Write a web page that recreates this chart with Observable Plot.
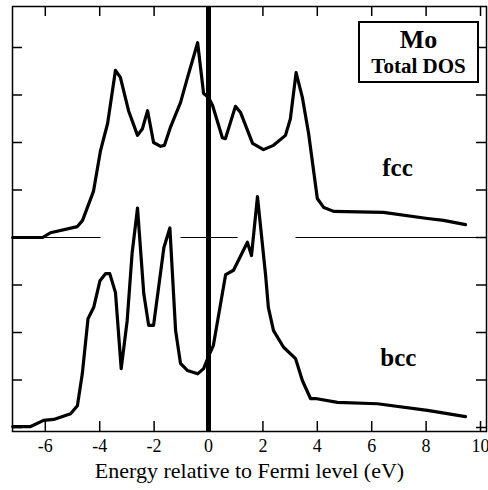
<!DOCTYPE html>
<html>
<head>
<meta charset="utf-8">
<script src="https://cdn.jsdelivr.net/npm/d3@7"></script>
<script src="https://cdn.jsdelivr.net/npm/@observablehq/plot@0.6"></script>
<style>
  html, body { margin: 0; padding: 0; background: #fff; }
  #wrap { position: relative; width: 488px; height: 490px; }
  #box {
    position: absolute; left: 358px; top: 21px; width: 121px; height: 62px;
    box-sizing: border-box; border: 2px solid #000; background: #fff;
    font-family: "Liberation Serif", "DejaVu Serif", serif; font-weight: bold; text-align: center; color: #000;
  }
  #box .t1 { font-size: 26px; line-height: 26px; margin-top: 4px; }
  #box .t2 { font-size: 21px; line-height: 21px; margin-top: 3px; }
</style>
</head>
<body>
<div id="wrap"><div id="box"><div class="t1">Mo</div><div class="t2">Total DOS</div></div></div>
<script>
// Energy (eV) relative to Fermi level and total DOS (arbitrary units, 1 = one tick interval)
const energyFcc = [-7.2, -6.1, -5.81, -4.82, -4.63, -4.23, -3.97, -3.71, -3.42, -3.24, -2.94, -2.61, -2.43, -2.24, -2.02, -1.76, -1.62, -1.40, -1.03, -0.77, -0.40, -0.18, 0, 0.15, 0.51, 0.62, 0.99, 1.18, 1.62, 2.02, 2.39, 2.83, 3.01, 3.22, 3.45, 3.68, 4.0, 4.24, 4.6, 6.43, 8.05, 8.64, 9.45];
const dosFcc    = [0, 0, 0.1, 0.23, 0.36, 0.97, 1.83, 2.4, 3.52, 3.37, 2.67, 2.15, 2.29, 2.67, 2.0, 1.92, 1.94, 2.32, 2.84, 3.37, 4.1, 3.03, 2.95, 2.78, 2.1, 2.08, 2.76, 2.63, 1.98, 1.85, 1.94, 2.15, 2.5, 3.47, 2.95, 2.19, 0.82, 0.63, 0.55, 0.53, 0.4, 0.36, 0.27];

const energyBcc = [-7.2, -6.54, -6.06, -5.69, -5.07, -4.82, -4.64, -4.43, -4.22, -3.99, -3.78, -3.63, -3.42, -3.21, -2.99, -2.81, -2.61, -2.38, -2.2, -2.02, -1.64, -1.42, -1.21, -1.03, -0.77, -0.40, -0.18, 0.04, 0.18, 0.63, 0.92, 1.43, 1.58, 1.80, 2.1, 2.2, 2.39, 2.76, 3.2, 3.45, 3.75, 3.93, 4.74, 6.21, 8.05, 9.45];
const dosBcc    = [0.02, 0.02, 0.15, 0.17, 0.29, 0.46, 1.13, 2.29, 2.53, 3.09, 3.24, 3.24, 2.84, 1.24, 2.25, 3.66, 4.62, 2.82, 2.15, 2.15, 3.79, 4.2, 2.04, 1.35, 1.2, 1.13, 1.24, 1.55, 1.73, 3.22, 3.31, 3.9, 3.62, 4.86, 3.2, 2.53, 2.04, 1.69, 1.45, 0.99, 0.61, 0.61, 0.53, 0.5, 0.36, 0.23];

const fccOffset = 4;  // fcc curve is shifted up by four tick intervals
const baselineStart = [-7.02, -1.03, 3.2];  // visible pieces of the fcc zero line
const baselineEnd   = [-3.97, 1.07, 10.07];

const xTicks = [-6, -4, -2, 0, 2, 4, 6, 8, 10];
const yTicks = [0, 1, 2, 3, 4, 5, 6, 7, 8];

const labelNames = ["fcc", "bcc"];
const labelEnergy = [6.95, 6.98];
const labelLevel = [5.47, 1.47];

const xTitle = "Energy relative to Fermi level (eV)";

const fcc = energyFcc.map((e, i) => ({e, dos: dosFcc[i]}));
const bcc = energyBcc.map((e, i) => ({e, dos: dosBcc[i]}));
const baseline = baselineStart.map((s, i) => ({x1: s, x2: baselineEnd[i], y: fccOffset}));
const labels = labelNames.map((t, i) => ({t, x: labelEnergy[i], y: labelLevel[i]}));

const W = 488, H = 490, mT = 6, mB = 59, mL = 12, mR = 2;
const innerH = H - mT - mB, innerW = W - mL - mR;

const chart = Plot.plot({
  width: W, height: H,
  marginTop: mT, marginBottom: mB, marginLeft: mL, marginRight: mR,
  style: {fontFamily: "Liberation Serif, serif", fontSize: "18px", background: "#fff", color: "#000", overflow: "visible"},
  x: {domain: [-7.206, 10.22], ticks: xTicks, tickFormat: d => String(d), tickSize: 0, tickPadding: 8, label: null},
  y: {domain: [-0.084, 8.863], axis: null},
  marks: [
    Plot.link(baseline, {x1: "x1", x2: "x2", y1: "y", y2: "y", stroke: "#000", strokeWidth: 1}),
    Plot.line(fcc, {x: "e", y: d => d.dos + fccOffset, stroke: "#000", strokeWidth: 3.2, strokeLinejoin: "round"}),
    Plot.line(bcc, {x: "e", y: "dos", stroke: "#000", strokeWidth: 3.2, strokeLinejoin: "round"}),
    Plot.ruleX([0], {stroke: "#000", strokeWidth: 5}),
    Plot.tickX(xTicks, {x: d => d, insetBottom: innerH - 10, strokeWidth: 1.5}),
    Plot.tickX(xTicks, {x: d => d, insetTop: innerH - 10, strokeWidth: 1.5}),
    Plot.tickY(yTicks, {y: d => d, insetRight: innerW - 10, strokeWidth: 1.5}),
    Plot.tickY(yTicks, {y: d => d, insetLeft: innerW - 10, strokeWidth: 1.5}),
    Plot.frame({stroke: "#000", strokeWidth: 1.5}),
    Plot.text(labels, {x: "x", y: "y", text: "t", fontSize: 25, fontWeight: "bold", fill: "#000"}),
    Plot.text([xTitle], {frameAnchor: "bottom", dy: 46, fontSize: 22, fill: "#000"})
  ]
});
document.getElementById("wrap").prepend(chart);
</script>
</body>
</html>
